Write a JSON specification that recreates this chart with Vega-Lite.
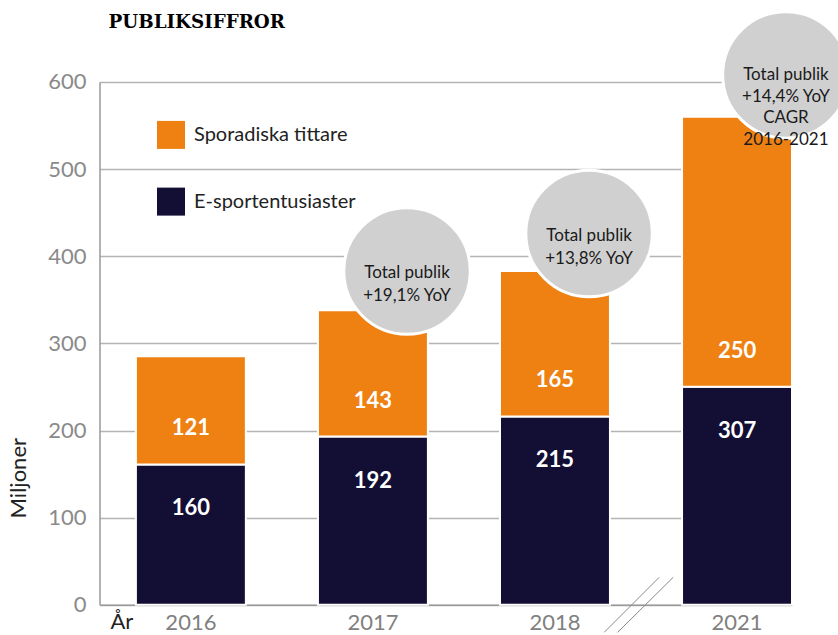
{
  "$schema": "https://vega.github.io/schema/vega-lite/v6.json",
  "width": 692.5,
  "height": 522.8,
  "autosize": {"type": "none"},
  "padding": {"left": 99.5, "top": 81.9, "right": 46, "bottom": 30.3},
  "background": "white",
  "config": {"view": {"stroke": null}, "font": "Lato"},
  "title": {
    "text": "PUBLIKSIFFROR",
    "anchor": "start",
    "frame": "group",
    "dx": 9,
    "dy": 41,
    "offset": 0,
    "baseline": "alphabetic",
    "font": "DejaVu Serif",
    "fontWeight": "bold",
    "fontSize": 18.3,
    "color": "#000000"
  },
  "datasets": {
    "bars": [
      {"year": "2016", "E": 161, "S": 124, "eLabel": "160", "sLabel": "121"},
      {"year": "2017", "E": 193, "S": 145, "eLabel": "192", "sLabel": "143"},
      {"year": "2018", "E": 216, "S": 167, "eLabel": "215", "sLabel": "165"},
      {"year": "2021", "E": 250, "S": 310, "eLabel": "307", "sLabel": "250"}
    ],
    "bubbles": [
      {"year": "2017", "y": 383, "text": "Total publik\n+19,1% YoY"},
      {"year": "2018", "y": 426, "text": "Total publik\n+13,8% YoY"},
      {"year": "2021", "y": 608, "text": "Total publik\n+14,4% YoY\nCAGR\n2016-2021"}
    ],
    "brk": [{"year": "2018", "top": 31.4, "bottom": -31.7}]
  },
  "layer": [
    {
      "data": {"name": "bars"},
      "transform": [{"fold": ["E", "S"], "as": ["segment", "value"]}],
      "mark": {"type": "bar", "stroke": "white", "strokeWidth": 2},
      "encoding": {
        "x": {
          "field": "year",
          "type": "nominal",
          "scale": {"paddingInner": 0.396, "paddingOuter": 0.1, "align": 1},
          "axis": {
            "title": "År",
            "titleX": 10.5,
            "titleY": 17,
            "titleAlign": "left",
            "titleBaseline": "middle",
            "titleFont": "Lato",
            "titleFontSize": 22,
            "titleFontWeight": "normal",
            "titleColor": "#222222",
            "labelAngle": 0,
            "labelFont": "Lato",
            "labelFontSize": 22,
            "labelColor": "#808080",
            "labelPadding": 8,
            "ticks": false,
            "domainColor": "#999999",
            "domainWidth": 1.5
          }
        },
        "y": {
          "field": "value",
          "type": "quantitative",
          "stack": "zero",
          "scale": {"domain": [0, 600], "nice": false},
          "axis": {
            "values": [0, 100, 200, 300, 400, 500, 600],
            "title": "Miljoner",
            "titleX": -81.5,
            "titleY": 395.8,
            "titleAngle": -90,
            "titleAlign": "center",
            "titleBaseline": "middle",
            "titleFont": "Lato",
            "titleFontSize": 22,
            "titleFontWeight": "normal",
            "titleColor": "#222222",
            "labelFont": "Lato",
            "labelFontSize": 22,
            "labelColor": "#8a8a8a",
            "labelPadding": 13.5,
            "ticks": false,
            "domainColor": "#999999",
            "domainWidth": 1.5,
            "grid": true,
            "gridColor": "#b4b4b4",
            "gridWidth": 1.5
          }
        },
        "color": {
          "field": "segment",
          "type": "nominal",
          "scale": {"domain": ["S", "E"], "range": ["#EF8113", "#130E34"]},
          "legend": {
            "title": null,
            "orient": "none",
            "legendX": 57.5,
            "legendY": 39,
            "symbolType": "square",
            "symbolSize": 784,
            "symbolStrokeWidth": 0,
            "symbolOpacity": 1,
            "labelFont": "Lato",
            "labelFontSize": 20,
            "labelColor": "#222222",
            "labelOffset": 9,
            "labelLimit": 0,
            "rowPadding": 38.7,
            "padding": 0,
            "labelExpr": "datum.value == 'S' ? 'Sporadiska tittare' : 'E-sportentusiaster'"
          }
        },
        "order": {"field": "segment", "sort": "ascending"}
      }
    },
    {
      "data": {"name": "bars"},
      "mark": {"type": "text", "dy": 44, "color": "white", "font": "Lato", "fontSize": 22, "fontWeight": "bold", "baseline": "middle"},
      "encoding": {
        "x": {"field": "year", "type": "nominal"},
        "y": {"field": "E", "type": "quantitative"},
        "text": {"field": "eLabel"}
      }
    },
    {
      "data": {"name": "bars"},
      "mark": {"type": "text", "dy": -36, "color": "white", "font": "Lato", "fontSize": 22, "fontWeight": "bold", "baseline": "middle"},
      "encoding": {
        "x": {"field": "year", "type": "nominal"},
        "y": {"field": "E", "type": "quantitative"},
        "text": {"field": "sLabel"}
      }
    },
    {
      "data": {"name": "bubbles"},
      "transform": [{"filter": "datum.year != '2021'"}],
      "mark": {"type": "point", "shape": "circle", "filled": true, "size": 16000, "fill": "#d0d0d0", "stroke": "white", "strokeWidth": 3, "opacity": 1, "fillOpacity": 1, "strokeOpacity": 1},
      "encoding": {
        "x": {"field": "year", "type": "nominal", "bandPosition": 0.81},
        "y": {"field": "y", "type": "quantitative"}
      }
    },
    {
      "data": {"name": "bubbles"},
      "transform": [{"filter": "datum.year != '2021'"}],
      "mark": {"type": "text", "lineBreak": "\n", "lineHeight": 22.5, "dy": 2.5, "color": "#1a1a1a", "font": "Lato", "fontSize": 17, "baseline": "middle"},
      "encoding": {
        "x": {"field": "year", "type": "nominal", "bandPosition": 0.81},
        "y": {"field": "y", "type": "quantitative"},
        "text": {"field": "text"}
      }
    },
    {
      "data": {"name": "bubbles"},
      "transform": [{"filter": "datum.year == '2021'"}],
      "mark": {"type": "point", "shape": "circle", "filled": true, "size": 16000, "fill": "#d0d0d0", "stroke": "white", "strokeWidth": 3, "opacity": 1, "fillOpacity": 1, "strokeOpacity": 1},
      "encoding": {
        "x": {"field": "year", "type": "nominal", "bandPosition": 0.945},
        "y": {"field": "y", "type": "quantitative"}
      }
    },
    {
      "data": {"name": "bubbles"},
      "transform": [{"filter": "datum.year == '2021'"}],
      "mark": {"type": "text", "lineBreak": "\n", "lineHeight": 21.7, "dy": 0, "color": "#1a1a1a", "font": "Lato", "fontSize": 17, "baseline": "middle"},
      "encoding": {
        "x": {"field": "year", "type": "nominal", "bandPosition": 0.945},
        "y": {"field": "y", "type": "quantitative"},
        "text": {"field": "text"}
      }
    },
    {
      "data": {"name": "brk"},
      "mark": {"type": "rule", "color": "#888888", "strokeWidth": 1},
      "encoding": {
        "x": {"field": "year", "type": "nominal", "bandPosition": 0.948},
        "x2": {"field": "year", "bandPosition": 1.448},
        "y": {"field": "bottom", "type": "quantitative"},
        "y2": {"field": "top"}
      }
    },
    {
      "data": {"name": "brk"},
      "mark": {"type": "rule", "color": "#888888", "strokeWidth": 1},
      "encoding": {
        "x": {"field": "year", "type": "nominal", "bandPosition": 1.07},
        "x2": {"field": "year", "bandPosition": 1.575},
        "y": {"field": "bottom", "type": "quantitative"},
        "y2": {"field": "top"}
      }
    }
  ]
}
